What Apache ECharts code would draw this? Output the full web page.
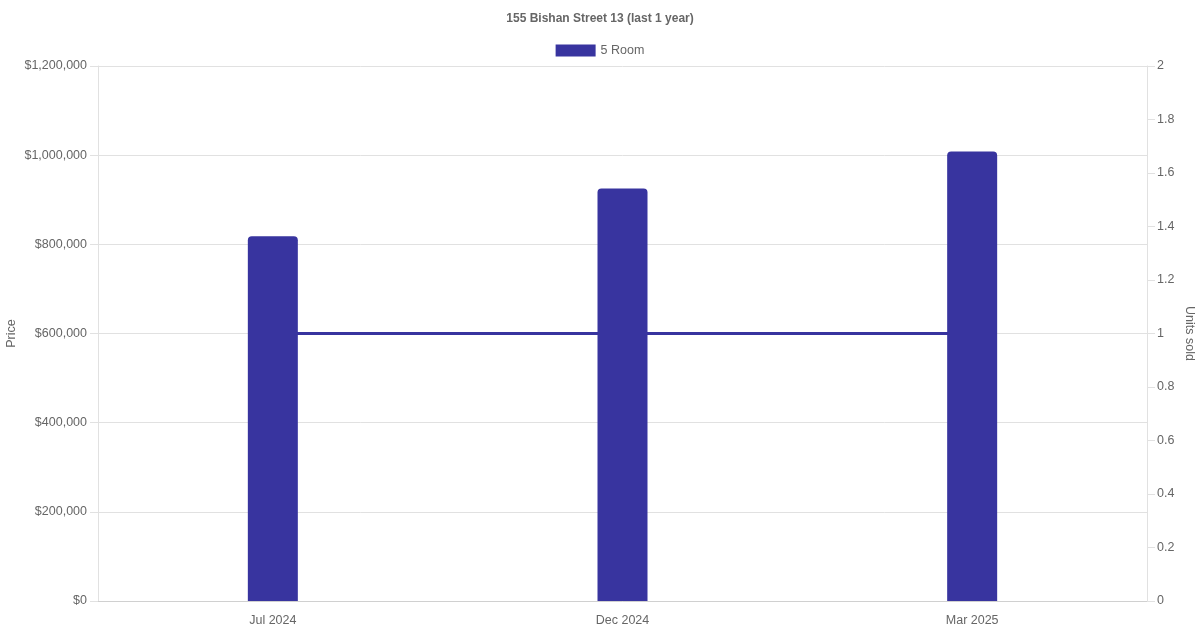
<!DOCTYPE html>
<html>
<head>
<meta charset="utf-8">
<title>155 Bishan Street 13</title>
<script src="https://cdn.jsdelivr.net/npm/echarts@6/dist/echarts.min.js"></script>
<style>
    html, body { margin: 0; padding: 0; background: #fff; }
    #chart { width: 1200px; height: 630px; }
</style>
</head>
<body>
<div id="chart"></div>
<script>
// Chart data
var months = ['Jul 2024', 'Dec 2024', 'Mar 2025'];
var prices = [818000, 925000, 1008000];
var unitsSold = [1, 1, 1];
var seriesName = '5 Room';

var barColor = '#38349f';
var textColor = '#666';
var gridColor = '#e1e1e1';
var fontFamily = 'Liberation Sans, Arial, sans-serif';

var chart = echarts.init(document.getElementById('chart'));

chart.setOption({
    animation: false,
    textStyle: {
        fontFamily: fontFamily,
        color: textColor
    },

    title: {
        text: '155 Bishan Street 13 (last 1 year)',
        left: 'center',
        top: 8,
        textStyle: {
            fontSize: 12,
            fontWeight: 'bold',
            color: textColor,
            fontFamily: fontFamily
        }
    },

    legend: {
        data: [seriesName],
        top: 39,
        left: 'center',
        icon: 'rect',
        itemWidth: 40,
        itemHeight: 12,
        itemGap: 10,
        textStyle: {
            fontSize: 12.5,
            color: textColor
        }
    },

    // Fixed plot area
    grid: {
        left: 98,
        right: 53,
        top: 66,
        bottom: 29,
        containLabel: false,
        outerBoundsMode: 'none'
    },

    xAxis: {
        type: 'category',
        data: months,
        axisTick: { show: false },
        axisLine: { lineStyle: { color: '#d0d0d0' } },
        axisLabel: {
            fontSize: 12.5,
            color: textColor,
            margin: 13
        }
    },

    yAxis: [{
        type: 'value',
        min: 0,
        max: 1200000,
        interval: 200000,
        name: 'Price',
        nameLocation: 'middle',
        nameGap: 80,
        nameMoveOverlap: false,
        nameTextStyle: { fontSize: 12.5, color: textColor },
        axisLine: { show: true, lineStyle: { color: gridColor } },
        axisTick: { show: true, length: 8, lineStyle: { color: gridColor } },
        axisLabel: {
            fontSize: 12.5,
            color: textColor,
            margin: 11,
            formatter: function (v) {
                return '$' + v.toLocaleString('en-US');
            }
        },
        splitLine: { lineStyle: { color: gridColor } }
    }, {
        type: 'value',
        position: 'right',
        min: 0,
        max: 2,
        interval: 0.2,
        name: 'Units sold',
        nameLocation: 'middle',
        nameRotate: -90,
        nameGap: 36,
        nameMoveOverlap: false,
        nameTextStyle: { fontSize: 12.5, color: textColor },
        axisLine: { show: true, lineStyle: { color: gridColor } },
        axisTick: { show: true, length: 8, lineStyle: { color: gridColor } },
        axisLabel: {
            fontSize: 12.5,
            color: textColor,
            margin: 10
        },
        splitLine: { show: false }
    }],

    series: [{
        name: seriesName,
        type: 'line',
        yAxisIndex: 1,
        data: unitsSold,
        showSymbol: false,
        symbol: 'none',
        z: 1,
        lineStyle: { color: barColor, width: 3 },
        itemStyle: { color: barColor }
    }, {
        name: seriesName,
        type: 'bar',
        yAxisIndex: 0,
        data: prices,
        barWidth: 50,
        z: 3,
        itemStyle: {
            color: barColor,
            borderRadius: [4, 4, 0, 0]
        }
    }]
});
</script>
</body>
</html>
